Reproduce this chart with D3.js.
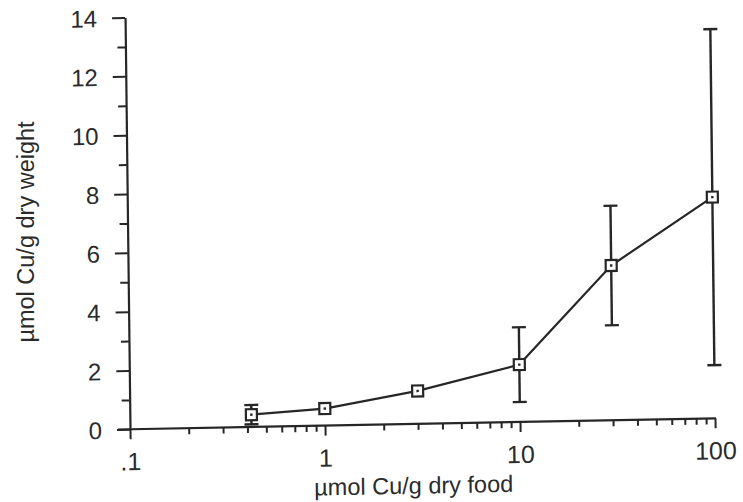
<!DOCTYPE html>
<html><head><meta charset="utf-8">
<script src="https://cdn.jsdelivr.net/npm/d3@7"></script>
<style>
body{margin:0;background:#fff}
svg{display:block}
text{font-family:"Liberation Sans",Arial,Helvetica,sans-serif;fill:#2b2b2b}
</style>
</head><body>
<svg id="c" width="743" height="502"></svg>
<script>
// ---- data ----
const doses  = [0.42, 1, 3, 10, 30, 100];          // µmol Cu/g dry food
const means  = [0.42, 0.58, 1.12, 1.95, 5.26, 7.52]; // µmol Cu/g dry weight
const errors = [0.33, 0, 0, 1.27, 2.03, 5.71];      // ± error bar half-length
const xTickValues = [0.1, 1, 10, 100];
const xTickLabels = [".1", "1", "10", "100"];
const xMinorValues = [0.2,0.3,0.4,0.5,0.6,0.7,0.8,0.9,2,3,4,5,6,7,8,9,20,30,40,50,60,70,80,90];
const yTickValues = [0, 2, 4, 6, 8, 10, 12, 14];
const yMinorValues = [1, 3, 5, 7, 9, 11, 13];
const xTitle = "µmol Cu/g dry food";
const yTitle = "µmol Cu/g dry weight";

const ink = "#262626";
const svg = d3.select("#c");

const x = d3.scaleLog().domain([0.1, 100]).range([130, 715]);
const y = d3.scaleLinear().domain([0, 14]).range([429.3, 17.5]);

// the scanned figure is slightly skewed: reproduce with a matrix about the origin
const g = svg.append("g").attr("transform", "matrix(1,-0.0188,0.012,1,-5.15,2.44)");

// ---- y axis ----
const yAxis = d3.axisLeft(y).tickValues(yTickValues).tickSize(13).tickSizeOuter(0).tickPadding(0).tickFormat(d3.format("d"));
const ya = g.append("g").attr("transform", "translate(130,0)").call(yAxis);
ya.select(".domain").attr("stroke", ink).attr("stroke-width", 2.2);
ya.selectAll(".tick line").attr("stroke", ink).attr("stroke-width", 2);
ya.selectAll(".tick text").attr("x", -28).attr("dy", "0.36em")
  .style("font-size", "24px").style("font-family", "'Liberation Sans',Arial,sans-serif").attr("fill", "#2b2b2b");
const yMinor = d3.axisLeft(y).tickValues(yMinorValues).tickSize(8).tickFormat("");
const ym = g.append("g").attr("transform", "translate(130,0)").call(yMinor);
ym.select(".domain").remove();
ym.selectAll(".tick line").attr("stroke", ink).attr("stroke-width", 2);

// ---- x axis ----
const xAxis = d3.axisBottom(x).tickValues(xTickValues).tickSize(10).tickSizeOuter(0).tickPadding(0)
  .tickFormat((d, i) => xTickLabels[i]);
const xa = g.append("g").attr("transform", `translate(0,${y(0)})`).call(xAxis);
xa.select(".domain").remove();
xa.append("line").attr("x1", 118).attr("x2", x(100) + 1).attr("stroke", ink).attr("stroke-width", 2.2);
xa.selectAll(".tick line").attr("stroke", ink).attr("stroke-width", 2);
xa.selectAll(".tick text").attr("y", 41).attr("dy", 0)
  .style("font-size", "25px").style("font-family", "'Liberation Sans',Arial,sans-serif").attr("fill", "#2b2b2b");
const xMinor = d3.axisBottom(x).tickValues(xMinorValues).tickSize(6).tickFormat("");
const xm = g.append("g").attr("transform", `translate(0,${y(0)})`).call(xMinor);
xm.select(".domain").remove();
xm.selectAll(".tick line").attr("stroke", ink).attr("stroke-width", 2);

// ---- data ----
const pts = doses.map((d, i) => ({x: d, m: means[i], e: errors[i]}));

const eb = g.append("g").selectAll("g").data(pts.filter(p => p.e > 0)).join("g")
  .attr("stroke", ink).attr("stroke-width", 2.4);
eb.append("line").attr("x1", p => x(p.x)).attr("x2", p => x(p.x))
  .attr("y1", p => y(p.m - p.e)).attr("y2", p => y(p.m + p.e));
eb.append("line").attr("x1", p => x(p.x) - 7).attr("x2", p => x(p.x) + 7)
  .attr("y1", p => y(p.m + p.e)).attr("y2", p => y(p.m + p.e));
eb.append("line").attr("x1", p => x(p.x) - 7).attr("x2", p => x(p.x) + 7)
  .attr("y1", p => y(p.m - p.e)).attr("y2", p => y(p.m - p.e));

g.append("path").datum(pts)
  .attr("fill", "none").attr("stroke", ink).attr("stroke-width", 2.2)
  .attr("d", d3.line().x(p => x(p.x)).y(p => y(p.m)));

const mk = g.append("g").selectAll("g").data(pts).join("g")
  .attr("transform", p => `translate(${x(p.x)},${y(p.m)})`);
mk.append("rect").attr("x", -5.5).attr("y", -5.5).attr("width", 11).attr("height", 11)
  .attr("fill", "#fff").attr("stroke", ink).attr("stroke-width", 2.2);
mk.append("rect").attr("x", -1.2).attr("y", -1.2).attr("width", 2.4).attr("height", 2.4).attr("fill", ink);

// ---- titles ----
g.append("text").attr("x", 413).attr("y", 499).attr("text-anchor", "middle")
  .style("font-size", "23.5px").text(xTitle);
svg.append("text").attr("transform", "translate(34,232) rotate(-90)").attr("text-anchor", "middle")
  .style("font-size", "23.5px").text(yTitle);
</script>
</body></html>
